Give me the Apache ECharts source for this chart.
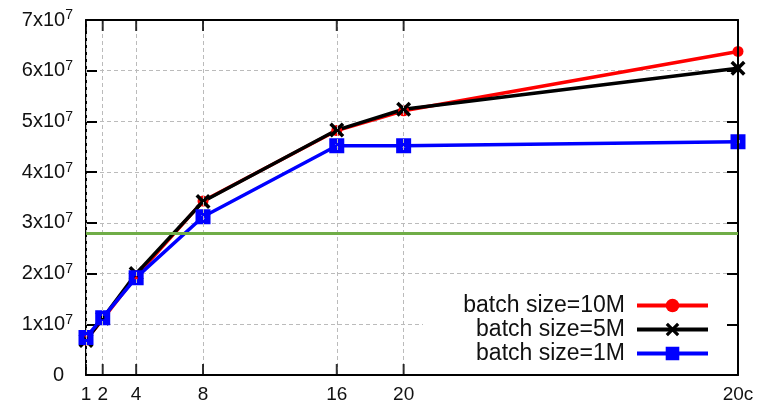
<!DOCTYPE html>
<html>
<head>
<meta charset="utf-8">
<script src="https://cdn.jsdelivr.net/npm/echarts@6/dist/echarts.min.js"></script>
<style>
html, body { margin: 0; padding: 0; background: #fff; }
#main { width: 760px; height: 405px; }
</style>
</head>
<body>
<div id="main"></div>
<script>
// 数据
var xValues = [1, 2, 4, 8, 16, 20, 40];
var xLabels = ['1', '2', '4', '8', '16', '20', '20c'];
var batch10M = [6.9e6, 1.1e7, 1.95e7, 3.43e7, 4.82e7, 5.21e7, 6.38e7];
var batch5M = [6.8e6, 1.12e7, 2.0e7, 3.42e7, 4.83e7, 5.24e7, 6.05e7];
var batch1M = [7.4e6, 1.13e7, 1.92e7, 3.12e7, 4.52e7, 4.52e7, 4.6e7];
var seriesNames = ['batch size=10M', 'batch size=5M', 'batch size=1M'];
var threshold = 2.8e7;
var yMin = 0;
var yMax = 7e7;

var font = 'Liberation Sans, Arial, sans-serif';

function pairs(vals) {
    return xValues.map(function (x, i) { return [x, vals[i]]; });
}
function atY(y) {
    return xValues.map(function (x) { return [x, y]; });
}

var labelMap = {};
xValues.forEach(function (x, i) { labelMap[x] = xLabels[i]; });

// 符号
var crossPath = 'path://M2,0L6,4L10,0L12,2L8,6L12,10L10,12L6,8L2,12L0,10L4,6L0,2Z';
var squarePath = 'path://M0,0H14V14H0Z M5.5,5.5V8.5H8.5V5.5Z';

function frameLine() {
    return { show: true, onZero: false, lineStyle: { color: '#000', width: 2 } };
}
function yTicks() {
    return { show: true, inside: true, length: 11, lineStyle: { color: '#000', width: 2 } };
}
function gridLine() {
    return { show: true, lineStyle: { color: '#bbb', width: 1, type: [4, 3] } };
}

// x轴刻度(朝内)用散点画
function tickSeries(y, dir) {
    return {
        type: 'scatter',
        silent: true,
        clip: false,
        z: 3,
        data: atY(y),
        symbol: 'rect',
        symbolSize: [2, 11],
        symbolOffset: [0, dir * 5.5],
        itemStyle: { color: '#000' },
        emphasis: { disabled: true },
        tooltip: { show: false }
    };
}

function legendAt(name, top) {
    return {
        data: [name],
        orient: 'vertical',
        right: 50,
        top: top,
        align: 'right',
        padding: 0,
        itemWidth: 71,
        itemHeight: 17,
        itemGap: 0,
        selectedMode: false,
        lineStyle: { width: 4 },
        textStyle: { fontSize: 23, color: '#111', fontFamily: font, padding: [0, 7, 0, 0] }
    };
}

var myChart = echarts.init(document.getElementById('main'));

var option = {
    animation: false,
    backgroundColor: '#fff',
    textStyle: { fontFamily: font },
    grid: { left: 86, right: 22, top: 20, bottom: 30 },
    legend: [
        legendAt(seriesNames[0], 294),
        legendAt(seriesNames[1], 318),
        legendAt(seriesNames[2], 342)
    ],
    // 图例背景
    graphic: [{
        type: 'rect',
        left: 423,
        top: 285,
        z: 1,
        shape: { width: 314, height: 89 },
        style: { fill: '#fff' }
    }],
    xAxis: [{
        type: 'value',
        min: 1,
        max: 40,
        position: 'bottom',
        z: 3,
        axisLine: frameLine(),
        axisTick: { show: false, customValues: xValues },
        axisLabel: {
            customValues: xValues,
            formatter: function (v) { return labelMap[v]; },
            fontSize: 19,
            color: '#111',
            margin: 10
        },
        splitLine: gridLine()
    }, {
        type: 'value',
        min: 1,
        max: 40,
        position: 'top',
        z: 3,
        axisLine: frameLine(),
        axisTick: { show: false },
        axisLabel: { show: false },
        splitLine: { show: false }
    }],
    yAxis: [{
        type: 'value',
        min: yMin,
        max: yMax,
        interval: 1e7,
        position: 'left',
        axisLine: frameLine(),
        axisTick: yTicks(),
        axisLabel: {
            margin: 13,
            color: '#111',
            formatter: function (v) {
                if (v === 0) return '{z|0}';
                return '{a|' + (v / 1e7) + 'x10}{b|7}';
            },
            rich: {
                a: { fontSize: 20, color: '#111', fontFamily: font },
                b: { fontSize: 14, color: '#111', fontFamily: font, padding: [0, 0, 9, 0] },
                z: { fontSize: 20, color: '#111', fontFamily: font, padding: [0, 9, 0, 0] }
            }
        },
        splitLine: gridLine()
    }, {
        type: 'value',
        min: yMin,
        max: yMax,
        interval: 1e7,
        position: 'right',
        z: 3,
        axisLine: frameLine(),
        axisTick: yTicks(),
        axisLabel: { show: false },
        splitLine: { show: false }
    }],
    series: [{
        name: seriesNames[0],
        type: 'line',
        z: 2,
        data: pairs(batch10M),
        symbol: 'circle',
        symbolSize: 11,
        lineStyle: { color: '#ff0000', width: 3.5 },
        itemStyle: { color: '#ff0000' },
        markLine: {
            silent: true,
            symbol: ['none', 'none'],
            label: { show: false },
            lineStyle: { color: '#70ad47', width: 3, type: 'solid' },
            emphasis: { disabled: true },
            data: [{ yAxis: threshold }]
        }
    }, {
        name: seriesNames[1],
        type: 'line',
        z: 2,
        data: pairs(batch5M),
        symbol: crossPath,
        symbolSize: 15,
        lineStyle: { color: '#000', width: 3.5 },
        itemStyle: { color: '#000' }
    }, {
        name: seriesNames[2],
        type: 'line',
        z: 2,
        data: pairs(batch1M),
        symbol: squarePath,
        symbolSize: 15,
        lineStyle: { color: '#0000ff', width: 3.5 },
        itemStyle: { color: '#0000ff' }
    },
    tickSeries(yMin, -1),
    tickSeries(yMax, 1)]
};

myChart.setOption(option);
</script>
</body>
</html>
